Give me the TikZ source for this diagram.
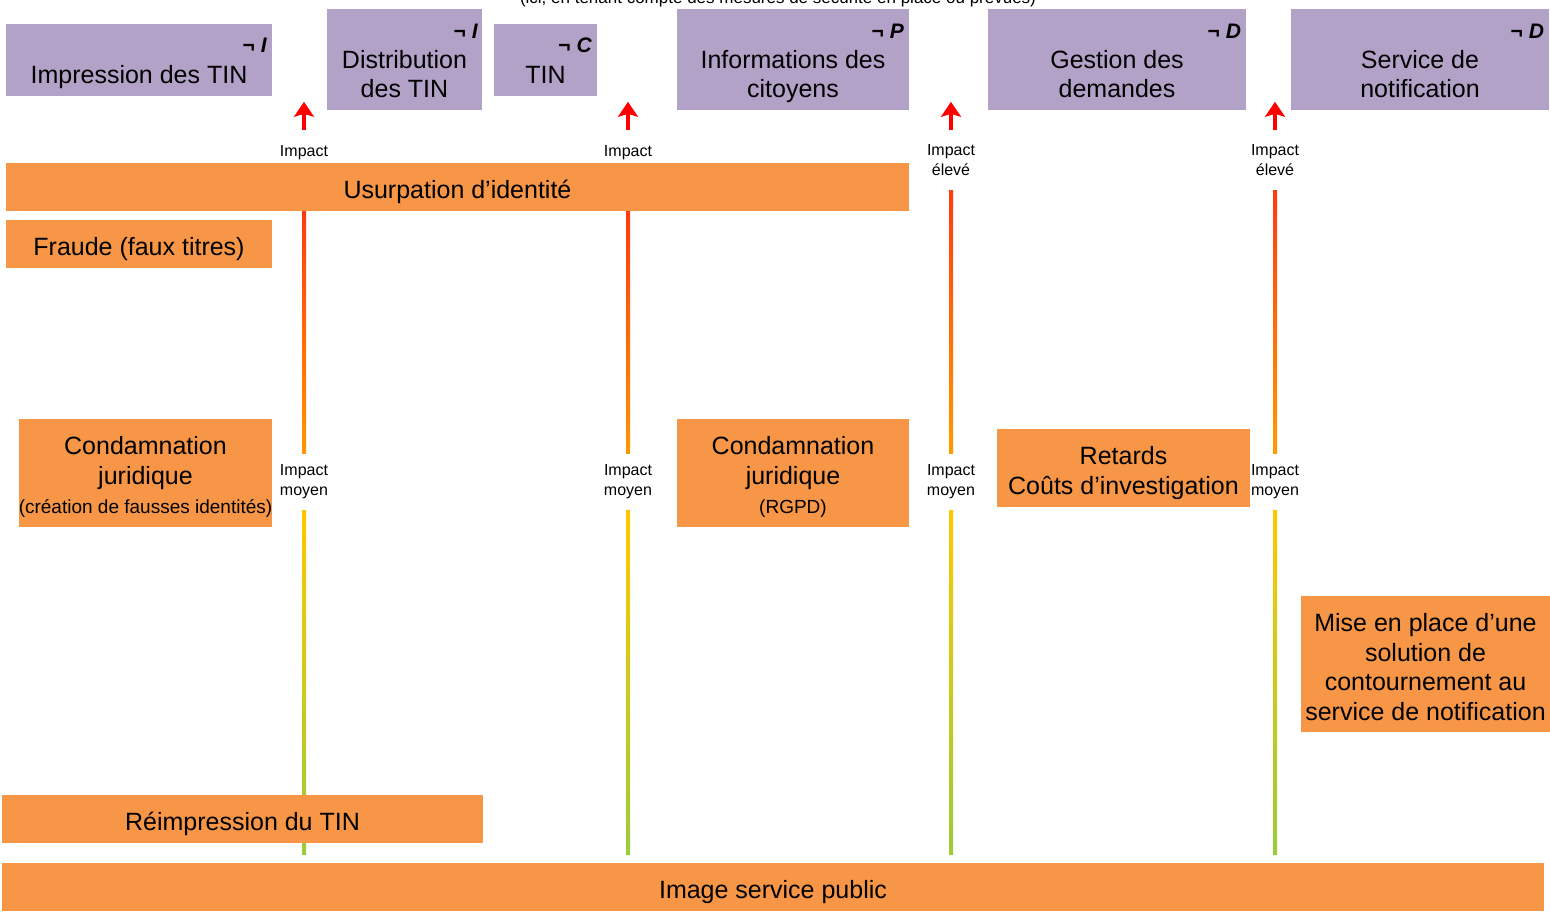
\documentclass[tikz,border=0pt]{standalone}
\usepackage{fontspec}
\setmainfont{Liberation Sans}
\usetikzlibrary{arrows.meta,backgrounds,calc}
\definecolor{lavender}{HTML}{B3A2C7}
\definecolor{accent}{HTML}{F79646}
\definecolor{highred}{HTML}{FF3A10}
\definecolor{midorange}{HTML}{FF9C00}
\definecolor{midyellow}{HTML}{FFC800}
\definecolor{lowgreen}{HTML}{9BCB3C}
\pgfdeclareverticalshading{impactline}{100bp}{color(0bp)=(lowgreen); color(25bp)=(lowgreen); color(51bp)=(midyellow); color(55bp)=(midorange); color(75bp)=(highred); color(100bp)=(highred)}

\begin{document}
\begin{tikzpicture}[x=1pt, y=-1pt,
    asset/.style={fill=lavender, inner sep=0pt},
    assettext/.style={align=center, inner sep=0pt, font=\fontsize{25}{29}\selectfont},
    tag/.style={anchor=east, inner sep=0pt, font=\fontsize{21}{24}\selectfont\bfseries},
    risk/.style={fill=accent, inner sep=0pt},
    risktext/.style={align=center, inner sep=0pt, font=\fontsize{25}{29.5}\selectfont},
    impact/.style={align=center, inner sep=0pt, font=\fontsize{16}{20}\selectfont},
    impactarrow/.style={red, line width=4pt, -{Stealth[length=15pt,width=20pt,inset=3pt]}}]
    \useasboundingbox (0,0) rectangle (1550,911);

    \node[anchor=base, inner sep=0pt, font=\fontsize{17}{20}\selectfont] (note) at (778,3.5)
        {(ici, en tenant compte des mesures de sécurité en place ou prévues)};

    \node[asset, minimum width=266, minimum height=72] (impr) at (139,60) {};
    \node[asset, minimum width=155, minimum height=101] (distr) at (404.5,59.5) {};
    \node[asset, minimum width=103, minimum height=72] (tin) at (545.5,60) {};
    \node[asset, minimum width=232, minimum height=101] (info) at (793,59.5) {};
    \node[asset, minimum width=258, minimum height=101] (gest) at (1117,59.5) {};
    \node[asset, minimum width=258, minimum height=101] (notif) at (1420,59.5) {};

    \node[assettext] (impr-txt) at ([yshift=-17pt]impr.center) {Impression des TIN};
    \node[assettext] (distr-txt) at ([yshift=-15pt]distr.center) {Distribution\\des TIN};
    \node[assettext] (tin-txt) at ([yshift=-15pt]tin.center) {TIN};
    \node[assettext] (info-txt) at ([yshift=-17pt]info.center) {Informations des\\citoyens};
    \node[assettext] (gest-txt) at ([yshift=-15pt]gest.center) {Gestion des\\demandes};
    \node[assettext] (notif-txt) at ([yshift=-15pt]notif.center) {Service de\\notification};

    \node[tag] (impr-tag) at ($(impr.north east)+(-5,21)$) {¬\hspace{6pt}\textit{I}};
    \node[tag] (distr-tag) at ($(distr.north east)+(-4,22)$) {¬\hspace{6pt}\textit{I}};
    \node[tag] (tin-tag) at ($(tin.north east)+(-5,21)$) {¬\hspace{6pt}\textit{C}};
    \node[tag] (info-tag) at ($(info.north east)+(-5,22)$) {¬\hspace{6pt}\textit{P}};
    \node[tag] (gest-tag) at ($(gest.north east)+(-5,22)$) {¬\hspace{6pt}\textit{D}};
    \node[tag] (notif-tag) at ($(notif.north east)+(-5,22)$) {¬\hspace{6pt}\textit{D}};

    \node[risk, minimum width=903, minimum height=48] (usurp) at (457.5,187) {};
    \node[risk, minimum width=266, minimum height=48] (fraude) at (139,244) {};
    \node[risk, minimum width=253, minimum height=108] (condA) at (145.5,473) {};
    \node[risk, minimum width=232, minimum height=108] (condB) at (793,473) {};
    \node[risk, minimum width=253, minimum height=78] (retards) at (1123.5,468) {};
    \node[risk, minimum width=249, minimum height=136] (contour) at (1425.5,664) {};
    \node[risk, minimum width=481, minimum height=48] (reimp) at (242.5,819) {};
    \node[risk, minimum width=1542, minimum height=48] (image) at (773,887) {};

    \node[risktext] (usurp-txt) at ([yshift=-5pt]usurp.center) {Usurpation d’identité};
    \node[risktext] (fraude-txt) at ([yshift=-5pt]fraude.center) {Fraude (faux titres)};
    \node[risktext] (condA-txt) at ([yshift=-4pt]condA.center)
        {Condamnation\\juridique\\{\fontsize{19}{22}\selectfont(création de fausses identités)}};
    \node[risktext] (condB-txt) at ([yshift=-4pt]condB.center)
        {Condamnation\\juridique\\{\fontsize{19}{22}\selectfont(RGPD)}};
    \node[risktext] (retards-txt) at ([yshift=-5pt]retards.center) {Retards\\Coûts d’investigation};
    \node[risktext] (contour-txt) at ([yshift=-3pt]contour.center)
        {Mise en place d’une\\solution de\\contournement au\\service de notification};
    \node[risktext] (reimp-txt) at ([yshift=-5pt]reimp.center) {Réimpression du TIN};
    \node[risktext] (image-txt) at ([yshift=-5pt]image.center) {Image service public};

    \node[impact, minimum height=46] (top1) at (304,153) {Impact};
    \node[impact, minimum height=46] (top2) at (628,153) {Impact};
    \node[impact, minimum height=60] (top3) at (951,160) {Impact\\élevé};
    \node[impact, minimum height=60] (top4) at (1275,160) {Impact\\élevé};

    \foreach \n in {1,...,4}
        \node[impact, fill=white, minimum height=56] (mid\n) at (top\n |- 0,482) {Impact\\moyen};

    \foreach \n in {1,...,4} {
        \coordinate (tip\n) at ($(top\n.north)+(0,-28)$);
        \draw[impactarrow] (top\n.north) -- (tip\n);
    }

    \begin{scope}[on background layer]
        \foreach \n/\start in {1/usurp.south -| top1, 2/usurp.south -| top2, 3/top3.south, 4/top4.south}
            \shade[shading=impactline] ($(\start)+(-2,0)$) rectangle ($(image.north -| top\n)+(2,-8)$);
    \end{scope}
\end{tikzpicture}
\end{document}
